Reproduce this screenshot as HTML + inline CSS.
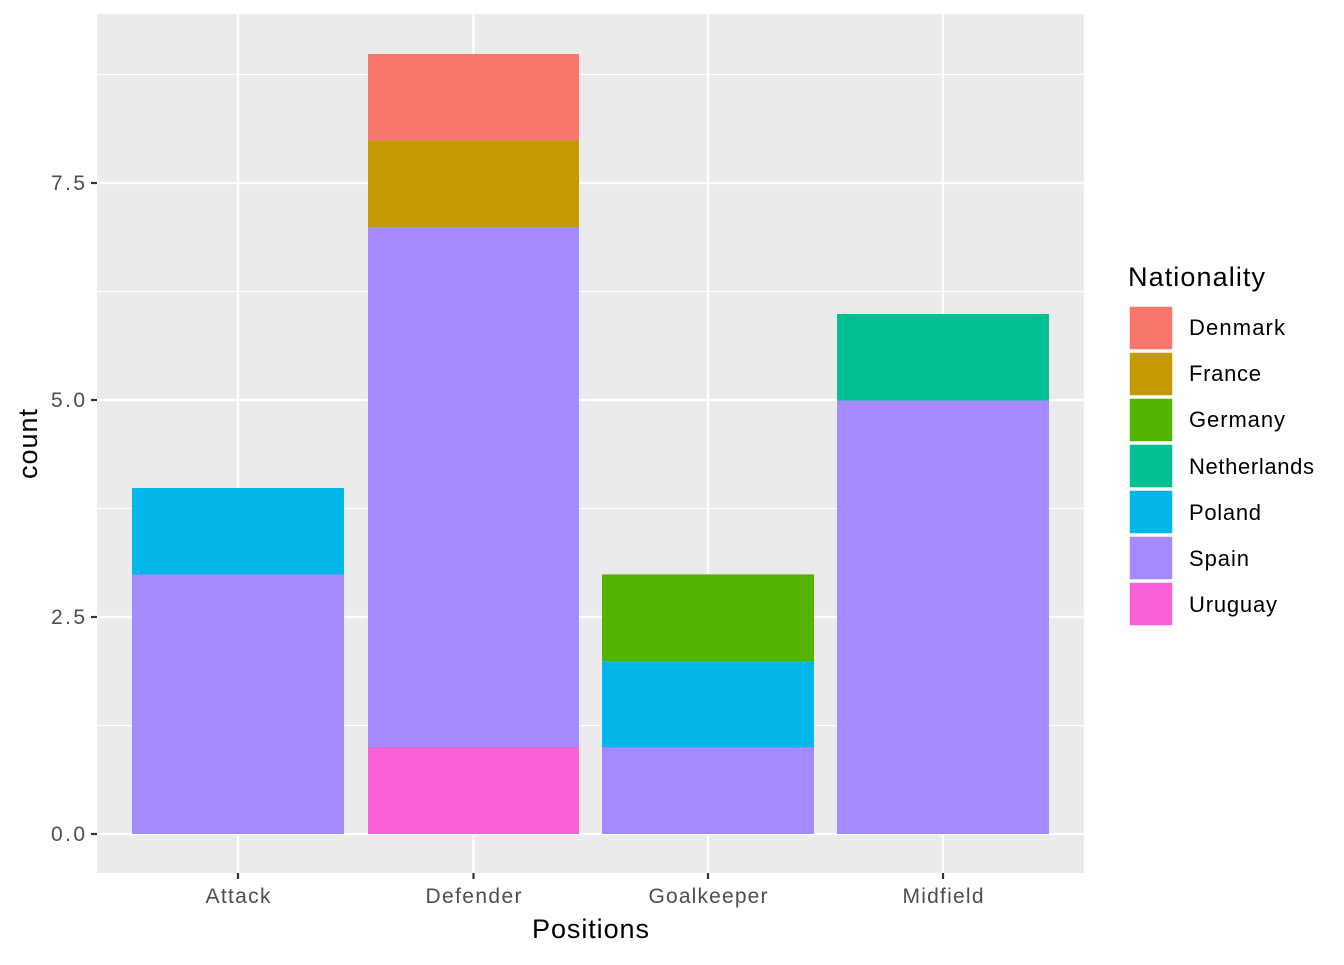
<!DOCTYPE html>
<html><head><style>body{margin:0;background:#fff}</style></head><body>
<svg width="1344" height="960" xmlns="http://www.w3.org/2000/svg" font-family="Liberation Sans, sans-serif">
<rect x="97" y="14" width="987" height="859" fill="#ebebeb"/>
<g stroke="#fff" stroke-width="1.1">
<line x1="97" x2="1084" y1="725.5" y2="725.5"/><line x1="97" x2="1084" y1="508.5" y2="508.5"/>
<line x1="97" x2="1084" y1="291.5" y2="291.5"/><line x1="97" x2="1084" y1="74.5" y2="74.5"/>
</g>
<g stroke="#fff" stroke-width="2.2">
<line x1="97" x2="1084" y1="834" y2="834"/><line x1="97" x2="1084" y1="617" y2="617"/>
<line x1="97" x2="1084" y1="400" y2="400"/><line x1="97" x2="1084" y1="183" y2="183"/>
<line x1="238" x2="238" y1="14" y2="873"/><line x1="473.5" x2="473.5" y1="14" y2="873"/>
<line x1="708" x2="708" y1="14" y2="873"/><line x1="943" x2="943" y1="14" y2="873"/>
</g>
<rect x="132" y="488" width="212" height="86.8" fill="#00b6eb"/>
<rect x="132" y="574.4" width="212" height="259.6" fill="#a58aff"/>
<rect x="368" y="54" width="211" height="86.8" fill="#f8766d"/>
<rect x="368" y="140.6" width="211" height="86.8" fill="#c49a00"/>
<rect x="368" y="227.4" width="211" height="520.8" fill="#a58aff"/>
<rect x="368" y="747.2" width="211" height="86.8" fill="#fb61d7"/>
<rect x="602" y="574.4" width="212" height="86.8" fill="#53b400"/>
<rect x="602" y="661.2" width="212" height="86.8" fill="#00b6eb"/>
<rect x="602" y="747.2" width="212" height="86.8" fill="#a58aff"/>
<rect x="837" y="314" width="212" height="86.8" fill="#00c094"/>
<rect x="837" y="400.6" width="212" height="433.4" fill="#a58aff"/>
<g stroke="#333" stroke-width="2.2">
<line x1="91" x2="97" y1="834" y2="834"/><line x1="91" x2="97" y1="617" y2="617"/>
<line x1="91" x2="97" y1="400" y2="400"/><line x1="91" x2="97" y1="183" y2="183"/>
<line x1="238" x2="238" y1="873" y2="879"/><line x1="473.5" x2="473.5" y1="873" y2="879"/>
<line x1="708" x2="708" y1="873" y2="879"/><line x1="943" x2="943" y1="873" y2="879"/>
</g>
<g font-size="21" fill="#4d4d4d" text-anchor="end">
<text x="85" y="841" textLength="34">0.0</text><text x="85" y="624" textLength="34">2.5</text><text x="85" y="407" textLength="34">5.0</text><text x="85" y="190" textLength="34">7.5</text>
</g>
<g font-size="21" fill="#4d4d4d" text-anchor="middle">
<text x="238" y="903" textLength="65">Attack</text><text x="473.5" y="903" textLength="96">Defender</text><text x="708" y="903" textLength="119">Goalkeeper</text><text x="943" y="903" textLength="81">Midfield</text>
</g>
<text x="590.5" y="938" font-size="27" text-anchor="middle" textLength="117">Positions</text>
<text transform="translate(37,444) rotate(-90)" font-size="27" text-anchor="middle" textLength="70">count</text>
<text x="1128" y="286" font-size="27" textLength="137">Nationality</text>
<g stroke="#fff" stroke-width="1.5">
<rect x="1129" y="306" width="44" height="44" fill="#f8766d"/>
<rect x="1129" y="352" width="44" height="44" fill="#c49a00"/>
<rect x="1129" y="398" width="44" height="44" fill="#53b400"/>
<rect x="1129" y="444" width="44" height="44" fill="#00c094"/>
<rect x="1129" y="490" width="44" height="44" fill="#00b6eb"/>
<rect x="1129" y="536" width="44" height="44" fill="#a58aff"/>
<rect x="1129" y="582" width="44" height="44" fill="#fb61d7"/>
</g>
<g font-size="22">
<text x="1189" y="335" textLength="96">Denmark</text><text x="1189" y="381" textLength="72">France</text><text x="1189" y="427" textLength="96">Germany</text>
<text x="1189" y="474" textLength="125">Netherlands</text><text x="1189" y="520" textLength="72">Poland</text><text x="1189" y="566" textLength="60">Spain</text><text x="1189" y="612" textLength="88">Uruguay</text>
</g>
</svg>
</body></html>
